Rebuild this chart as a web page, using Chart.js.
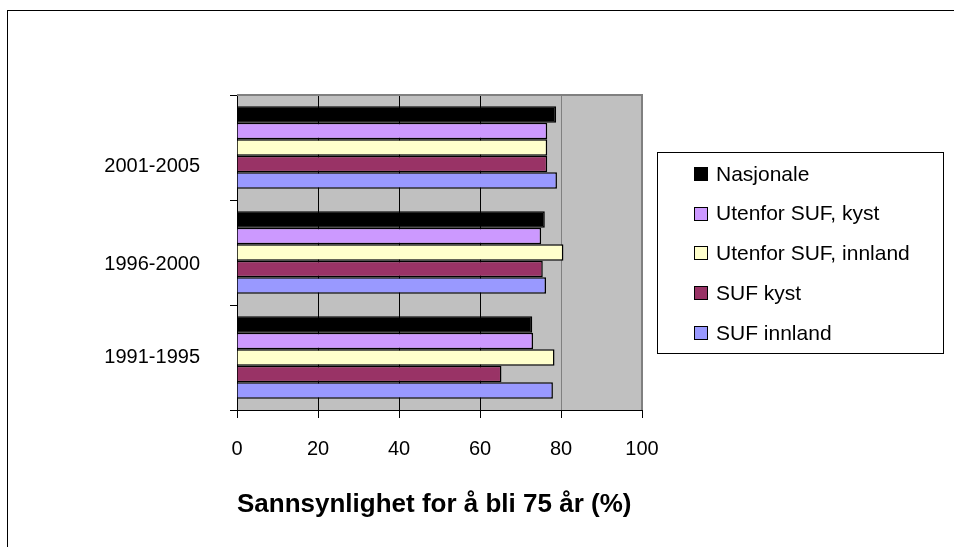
<!DOCTYPE html>
<html>
<head>
<meta charset="utf-8">
<script src="https://cdn.jsdelivr.net/npm/chart.js@4"></script>
<style>
  html, body { margin: 0; padding: 0; background: #ffffff; }
  #wrap { width: 954px; height: 547px; position: relative; }
</style>
</head>
<body>
<div id="wrap"><canvas id="c" width="954" height="547"></canvas></div>
<script>
// Periods, top to bottom
const periods = ['2001-2005', '1996-2000', '1991-1995'];

// Probability of reaching 75 years (%), one value per period
const nasjonale      = [78.8, 76.0, 72.9];
const utenforKyst    = [76.6, 75.1, 73.1];
const utenforInnland = [76.6, 80.6, 78.4];
const sufKyst        = [76.6, 75.5, 65.3];
const sufInnland     = [79.0, 76.3, 78.0];

const seriesNames  = ['Nasjonale', 'Utenfor SUF, kyst', 'Utenfor SUF, innland', 'SUF kyst', 'SUF innland'];
const seriesValues = [nasjonale, utenforKyst, utenforInnland, sufKyst, sufInnland];
const seriesColors = ['#000000', '#CC99FF', '#FFFFCC', '#993366', '#9999FF'];

const xTickValues = [0, 20, 40, 60, 80, 100];
const xTitle = 'Sannsynlighet for å bli 75 år (%)';

const FONT = 'Arial, "Liberation Sans", Helvetica, sans-serif';

// Downward shift (px) of each period label below its category centre
const periodLabelDrop = [19, 12, 0];

// Outer frame, grey plot area and the plot border
const backdrop = {
  id: 'backdrop',
  beforeDraw(chart) {
    const { ctx, chartArea: a } = chart;
    ctx.save();
    ctx.strokeStyle = '#000000';
    ctx.lineWidth = 1;
    ctx.strokeRect(7.5, 10.5, 1200, 800);
    ctx.fillStyle = '#C0C0C0';
    ctx.fillRect(a.left, a.top, a.right - a.left, a.bottom - a.top);
    ctx.restore();
  },
  beforeDatasetsDraw(chart) {
    const { ctx, chartArea: a } = chart;
    ctx.save();
    ctx.strokeStyle = '#808080';
    ctx.lineWidth = 2;
    ctx.beginPath();
    ctx.moveTo(a.left, a.top);
    ctx.lineTo(a.right, a.top);
    ctx.lineTo(a.right, a.bottom);
    ctx.stroke();
    ctx.restore();
  }
};

// Boxed legend to the right of the plot
const boxLegend = {
  id: 'boxLegend',
  afterDraw(chart) {
    const { ctx } = chart;
    const box = { x: 657.5, y: 152.5, w: 286, h: 201 };
    ctx.save();
    ctx.fillStyle = '#ffffff';
    ctx.fillRect(box.x, box.y, box.w, box.h);
    ctx.strokeStyle = '#000000';
    ctx.lineWidth = 1;
    ctx.strokeRect(box.x, box.y, box.w, box.h);
    ctx.font = '21px ' + FONT;
    ctx.textBaseline = 'middle';
    ctx.textAlign = 'left';
    chart.data.datasets.forEach((ds, i) => {
      const cy = 174 + i * 39.7;
      const s = 14;
      ctx.fillStyle = ds.backgroundColor;
      ctx.fillRect(694, Math.round(cy - s / 2), s, s);
      ctx.strokeStyle = '#000000';
      ctx.strokeRect(694.5, Math.round(cy - s / 2) + 0.5, s - 1, s - 1);
      ctx.fillStyle = '#000000';
      ctx.fillText(ds.label, 716, cy + 1);
    });
    ctx.restore();
  }
};

new Chart(document.getElementById('c'), {
  type: 'bar',
  data: {
    labels: periods,
    datasets: seriesNames.map((name, i) => ({
      label: name,
      data: seriesValues[i],
      backgroundColor: seriesColors[i],
      borderColor: '#000000',
      borderWidth: 1.5,
      categoryPercentage: 0.786,
      barPercentage: 1.0
    }))
  },
  options: {
    indexAxis: 'y',
    responsive: false,
    animation: false,
    devicePixelRatio: 1,
    layout: { padding: { top: 95, right: 312, left: 0, bottom: 0 } },
    plugins: { legend: { display: false }, tooltip: { enabled: false } },
    scales: {
      x: {
        min: 0,
        max: 100,
        afterBuildTicks(scale) { scale.ticks = xTickValues.map(v => ({ value: v })); },
        afterFit(scale) { scale.height = 137; },
        grid: {
          color: ctx => (ctx.tick && ctx.tick.value >= 80) ? '#808080' : '#000000',
          tickColor: '#000000',
          tickLength: 8,
          lineWidth: 1
        },
        border: { color: '#000000', width: 1 },
        ticks: { color: '#000000', font: { family: FONT, size: 20 }, padding: 19 },
        title: {
          display: true,
          text: xTitle,
          align: 'start',
          color: '#000000',
          font: { family: FONT, size: 26, weight: 'bold' },
          padding: { top: 0, bottom: 27 }
        }
      },
      y: {
        afterFit(scale) { scale.width = 237; },
        grid: {
          drawOnChartArea: false,
          tickColor: '#000000',
          tickLength: 7,
          offset: true
        },
        border: { color: '#000000', width: 1 },
        ticks: {
          color: '#000000',
          padding: 30,
          // a blank first line, with the line height set to twice the drop,
          // moves the period label down by the drop
          callback(value, index) {
            const label = this.getLabelForValue(value);
            return periodLabelDrop[index] ? ['', label] : label;
          },
          font: ctx => ({
            family: FONT,
            size: 20,
            lineHeight: periodLabelDrop[ctx.index] ? (2 * periodLabelDrop[ctx.index]) + 'px' : 1.2
          })
        }
      }
    }
  },
  plugins: [backdrop, boxLegend]
});
</script>
</body>
</html>
